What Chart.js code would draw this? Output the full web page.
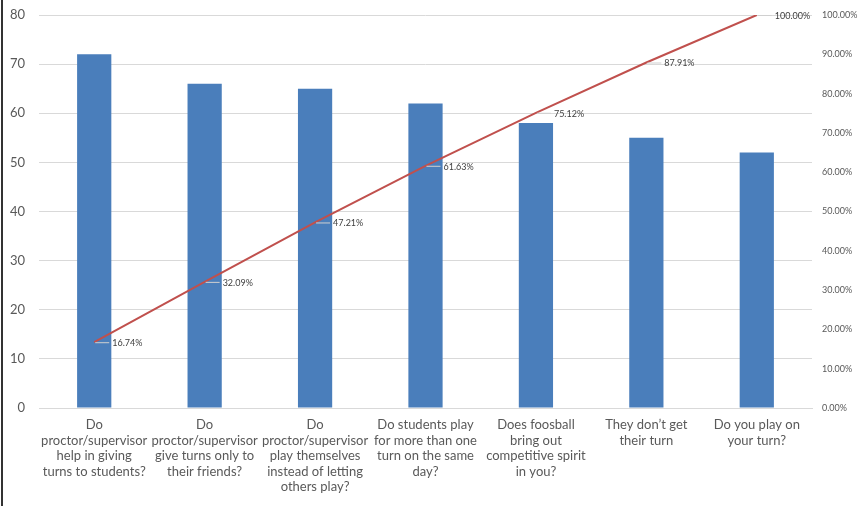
<!DOCTYPE html>
<html><head><meta charset="utf-8">
<script src="https://cdn.jsdelivr.net/npm/chart.js@4/dist/chart.umd.min.js"></script>
<style>html,body{margin:0;padding:0;background:#fff;}#wrap{width:865px;height:506px;position:relative;}</style>
</head><body><div id="wrap"><canvas id="c" width="865" height="506"></canvas></div>
<script>
const categories = [
  ["Do", "proctor/supervisor", "help in giving", "turns to students?"],
  ["Do", "proctor/supervisor", "give turns only to", "their friends?"],
  ["Do", "proctor/supervisor", "play themselves", "instead of letting", "others play?"],
  ["Do students play", "for more than one", "turn on the same", "day?"],
  ["Does foosball", "bring out", "competitive spirit", "in you?"],
  ["They don\u2019t get", "their turn"],
  ["Do you play on", "your turn?"]
];
const counts = [72, 66, 65, 62, 58, 55, 52];
const cumulativePct = [16.74, 32.09, 47.21, 61.63, 75.12, 87.91, 100.00];
const leftTicks = [0, 10, 20, 30, 40, 50, 60, 70, 80];
const rightTicks = [0, 10, 20, 30, 40, 50, 60, 70, 80, 90, 100];

function noPad(s) { s.paddingTop = 0; s.paddingBottom = 0; s.paddingLeft = 0; s.paddingRight = 0; }

const labelPlugin = {
  id: 'pctLabels',
  afterDatasetsDraw(chart) {
    const meta = chart.getDatasetMeta(1);
    const ctx = chart.ctx;
    ctx.save();
    ctx.font = '9px Lato, "Liberation Sans", sans-serif';
    ctx.textBaseline = 'middle';
    meta.data.forEach((pt, i) => {
      const x = pt.x, y = pt.y;
      ctx.strokeStyle = '#d0d0d0';
      ctx.lineWidth = 1;
      ctx.beginPath();
      ctx.moveTo(x + 1, y + 0.5);
      ctx.lineTo(x + 15, y + 0.5);
      ctx.stroke();
      ctx.fillStyle = '#404040';
      ctx.fillText(cumulativePct[i].toFixed(2) + '%', x + 18, y + 1);
    });
    ctx.restore();
  },
  afterDraw(chart) {
    const ctx = chart.ctx;
    ctx.save();
    ctx.fillStyle = '#333';
    ctx.fillRect(1, 0, 2, chart.height);
    ctx.restore();
  }
};

new Chart(document.getElementById('c'), {
  type: 'bar',
  data: {
    labels: categories,
    datasets: [
      { type: 'bar', data: counts, backgroundColor: '#4a7ebb', yAxisID: 'y', order: 2,
        barPercentage: 0.31, categoryPercentage: 1.0 },
      { type: 'line', data: cumulativePct, borderColor: '#c0504d', borderWidth: 2,
        pointRadius: 0, yAxisID: 'y1', order: 0, tension: 0 }
    ]
  },
  options: {
    responsive: false,
    animation: false,
    devicePixelRatio: 1,
    layout: { padding: { top: 15, right: 0, bottom: 0, left: 0 } },
    plugins: { legend: { display: false }, tooltip: { enabled: false } },
    scales: {
      x: {
        grid: { display: false },
        border: { display: true, color: '#d9d9d9' },
        ticks: { color: '#595959', font: { family: 'Lato, "Liberation Sans", sans-serif', size: 13, lineHeight: 1.2 },
                 padding: 1, maxRotation: 0, autoSkip: false },
        afterFit(s) { s.height = 98; noPad(s); }
      },
      y: {
        position: 'left', min: 0, max: 80,
        afterBuildTicks(s) { s.ticks = leftTicks.map(v => ({ value: v })); },
        grid: { color: '#d9d9d9', drawTicks: false },
        border: { display: false },
        ticks: { color: '#595959', font: { family: 'Lato, "Liberation Sans", sans-serif', size: 13 }, padding: 14 },
        afterFit(s) { s.width = 39; noPad(s); }
      },
      y1: {
        position: 'right', min: 0, max: 100,
        afterBuildTicks(s) { s.ticks = rightTicks.map(v => ({ value: v })); },
        grid: { display: false, drawTicks: false },
        border: { display: false },
        ticks: { color: '#595959', font: { family: 'Lato, "Liberation Sans", sans-serif', size: 9 }, padding: 10,
                 callback: v => v.toFixed(2) + '%' },
        afterFit(s) { s.width = 53; noPad(s); }
      }
    }
  },
  plugins: [labelPlugin]
});
</script>
</body></html>
